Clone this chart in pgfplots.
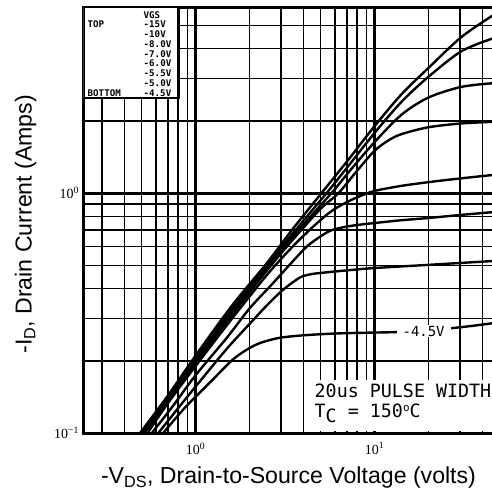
\documentclass[border=0pt]{standalone}
\usepackage{fontspec}
\setmainfont{Liberation Sans}
\newfontfamily\tickfont{Liberation Serif}
\newfontfamily\monofont{DejaVu Sans Mono}
\usepackage{pgfplots}
\pgfplotsset{compat=1.18}
\pgfplotsset{curve/.style={black, mark=none, solid, line width=2.4bp, smooth, tension=0.5}}
\begin{document}
\begin{tikzpicture}
\begin{axis}[
  xmode=log, ymode=log,
  scale only axis, width=410bp, height=426bp,
  xmin=0.2366, xmax=46.2, ymin=0.1, ymax=5.96,
  xtick={1,10}, xticklabels={10\textsuperscript{0},10\textsuperscript{1}},
  ytick={0.1,1}, yticklabels={10\textsuperscript{−1},10\textsuperscript{0}},
  minor xtick={0.3,0.4,0.5,0.6,0.7,0.8,0.9,2,3,4,5,6,7,8,9,20,30,40},
  minor ytick={0.2,0.3,0.4,0.5,0.6,0.7,0.8,0.9,2,3,4,5},
  grid=both,
  major grid style={line width=3bp, black},
  minor grid style={line width=1.5bp, black},
  axis line style={line width=3bp},
  tick style={draw=none},
  ticklabel style={font=\tickfont\fontsize{14}{14}\selectfont},
  xticklabel style={anchor=north, yshift=-6bp},
  yticklabel style={anchor=east, xshift=-1bp},
  xlabel={-V\textsubscript{DS}, Drain-to-Source Voltage (volts)},
  ylabel={-I\textsubscript{D}, Drain Current (Amps)},
  label style={font=\fontsize{23.2}{24}\selectfont},
  xlabel style={at={(axis description cs:0.5,-0.104)}, anchor=center},
  ylabel style={at={(axis description cs:-0.141,0.49)}, anchor=center},
]
\coordinate (SW) at (rel axis cs:0,0);
\coordinate (NE) at (rel axis cs:1,1);
% -15V
\addplot[curve] coordinates {(0.49,0.1)(0.7,0.143)(1,0.21)(1.6,0.34)(2.5,0.51)(3.5,0.71)(5.06,1.0)(7.16,1.38)(10,1.9)(14.15,2.58)(20,3.32)(30.6,4.47)(46.2,5.52)};
% -10V
\addplot[curve] coordinates {(0.5,0.1)(0.7,0.141)(1,0.205)(1.6,0.33)(2.5,0.5)(3.5,0.68)(5.4,1.0)(7.16,1.3)(10,1.78)(14.15,2.4)(20,3.05)(30.6,3.9)(46.2,4.42)};
% -8V
\addplot[curve] coordinates {(0.51,0.1)(0.7,0.139)(1,0.2)(1.6,0.32)(2.5,0.49)(3.5,0.66)(5.75,1.0)(7.16,1.22)(10,1.63)(14.15,2.12)(20,2.5)(30.6,2.77)(46.2,2.87)};
% -7V
\addplot[curve] coordinates {(0.52,0.1)(0.7,0.137)(1,0.196)(1.6,0.31)(2.5,0.475)(3.5,0.64)(5,0.86)(6.3,1.0)(8,1.24)(10,1.5)(12,1.66)(14.15,1.76)(20,1.88)(30.6,1.95)(46.2,1.98)};
% -6V
\addplot[curve] coordinates {(0.54,0.1)(0.7,0.133)(1,0.19)(1.6,0.3)(2.5,0.455)(3.5,0.6)(4.5,0.72)(5.5,0.82)(6.5,0.89)(8,0.96)(10,1.02)(14,1.07)(20,1.11)(30,1.15)(46.2,1.19)};
% -5.5V
\addplot[curve] coordinates {(0.57,0.1)(0.75,0.13)(1,0.174)(1.5,0.25)(2,0.33)(2.7,0.42)(3.5,0.52)(4.2,0.6)(5,0.66)(5.75,0.7)(7,0.725)(8.5,0.74)(10,0.75)(14,0.77)(20,0.787)(30,0.81)(46.2,0.833)};
% -5V
\addplot[curve] coordinates {(0.62,0.1)(0.8,0.127)(1,0.156)(1.5,0.225)(2.05,0.29)(2.5,0.34)(3.02,0.39)(3.5,0.425)(3.91,0.448)(4.5,0.46)(5.5,0.468)(7.44,0.478)(10,0.487)(20,0.502)(46.2,0.521)};
% -4.5V
\addplot[curve] coordinates {(0.66,0.1)(0.868,0.127)(1.2,0.162)(1.65,0.205)(2.14,0.232)(2.6,0.244)(3.02,0.25)(3.91,0.255)(5.5,0.259)(7.44,0.261)(14.9,0.264)(22.8,0.27)(33,0.278)(46.2,0.287)};
% legend box
\fill[white] (rel axis cs:0,1) rectangle (rel axis cs:0.232,0.786);
\draw[line width=2.5bp] (rel axis cs:0,1) rectangle (rel axis cs:0.232,0.786);
\node[anchor=base west, inner sep=0, font=\monofont\bfseries\fontsize{9.2}{9.8}\selectfont]
  at ([xshift=4bp,yshift=-11bp]rel axis cs:0,1)
  {\begin{tabular}[t]{@{}p{56bp}@{}l@{}}
   & VGS\\ TOP & -15V\\ & -10V\\ & -8.0V\\ & -7.0V\\ & -6.0V\\ & -5.5V\\ & -5.0V\\ BOTTOM & -4.5V
   \end{tabular}};
% annotation box
\fill[white] ([xshift=1.3bp,yshift=1.6bp]axis cs:4,0.1) rectangle (rel axis cs:1,0.1244);
\node[anchor=base west, inner sep=0, font=\monofont\fontsize{18.4}{21}\selectfont] at (axis cs:4.62,0.141) {20us PULSE WIDTH};
\node[anchor=base west, inner sep=0, font=\monofont\fontsize{18.4}{21}\selectfont] at (axis cs:4.62,0.1155) {T\raisebox{-5bp}{C} = 150\raisebox{6bp}{\fontsize{11}{11}\selectfont o}C};
\node[fill=white, inner xsep=6bp, inner ysep=1bp, font=\monofont\fontsize{14}{14}\selectfont] at (axis cs:18.8,0.266) {-4.5V};
\end{axis}
\pgfresetboundingbox
\useasboundingbox ([xshift=-83.5bp,yshift=-60bp]SW) rectangle ([xshift=-1.5bp,yshift=7bp]NE);
\end{tikzpicture}
\end{document}
